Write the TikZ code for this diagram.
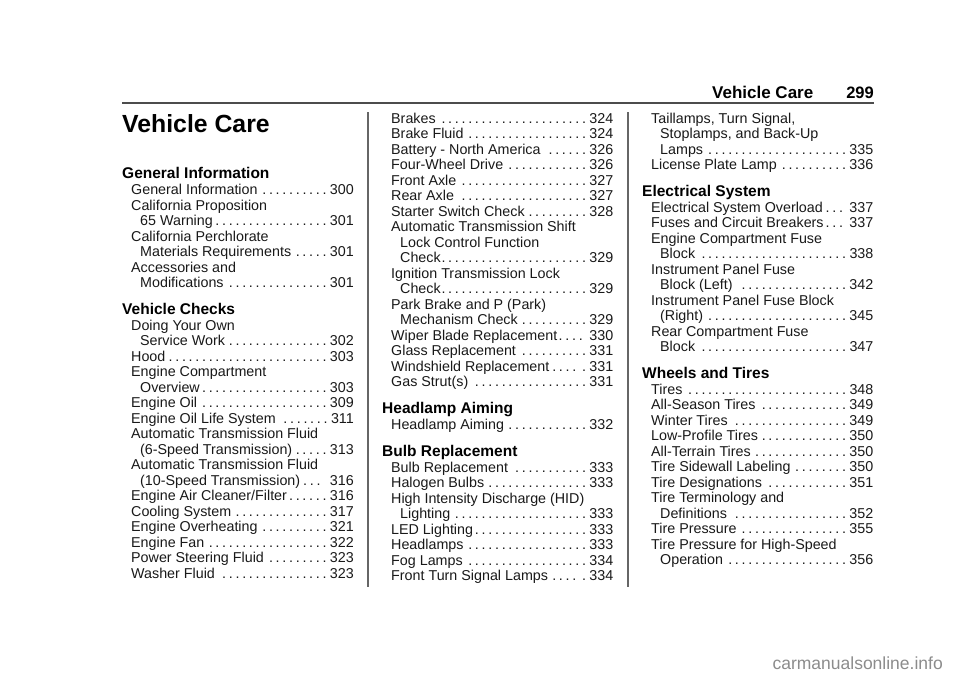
\documentclass[tikz,border=0pt]{standalone}
\usepackage{fontspec}
\setmainfont{Liberation Sans}
\newcount\nodeno
\newcommand{\bodysize}{\fontsize{14.3}{15.5}\selectfont}
\newcommand{\ldr}[1]{{\spaceskip=2.72pt\relax\xspaceskip=2.72pt\relax #1}}
\newcommand{\setcol}[2]{\def\cx{#1}\def\crgt{#2}}
\newcommand{\bodyline}[3]{\global\advance\nodeno by 1
  \node[bodytext] (t\the\nodeno) at (\cx+#2,-#1) {#3};}
\newcommand{\pg}[3]{\global\advance\nodeno by 1
  \node[bodyright] (p\the\nodeno) at (\crgt,-#1) {\ldr{#2}\kern3.4pt #3};}
\newcommand{\hd}[2]{\global\advance\nodeno by 1
  \node[headtext] (h\the\nodeno) at (\cx-9,-#1) {#2};}
\tikzset{
  bodytext/.style={inner sep=0pt,anchor=base west,font=\bodysize,text=black!90},
  bodyright/.style={inner sep=0pt,anchor=base east,font=\bodysize,text=black!90},
  headtext/.style={inner sep=0pt,anchor=base west,font=\fontsize{15.5}{18}\selectfont\bfseries},
  rulegray/.style={draw=black!60,line width=1.4pt}
}
\begin{document}
\begin{tikzpicture}[x=1pt,y=1pt]
\useasboundingbox (0,0) rectangle (960,-678);
\fill[white] (0,0) rectangle (960,-678);
\node[inner sep=0pt,anchor=base east,font=\fontsize{17}{20}\selectfont\bfseries] (ttl) at (813.5,-98.5) {Vehicle Care};
\node[inner sep=0pt,anchor=base east,font=\fontsize{16.5}{20}\selectfont\bfseries] (pno) at (874,-98.5) {299};
\draw[draw=black!70,line width=1.3pt] (122,-103) coordinate (ra) -- (874,-103) coordinate (rb);
\node[inner sep=0pt,anchor=base west,font=\fontsize{24.8}{28}\selectfont\bfseries] (big) at (122,-132) {Vehicle Care};
\draw[rulegray] (368,-112) coordinate (v1a) -- (368,-587) coordinate (v1b);
\draw[rulegray] (628,-112) coordinate (v2a) -- (628,-587) coordinate (v2b);
% column 1
\setcol{131}{354}
\hd{178.5}{General Information}
\bodyline{194}{0}{General Information}\pg{194}{. . . . . . . . . .}{300}
\bodyline{210}{0}{California Proposition}
\bodyline{225}{9}{65 Warning}\pg{225}{. . . . . . . . . . . . . . . . .}{301}
\bodyline{241}{0}{California Perchlorate}
\bodyline{256}{9}{Materials Requirements}\pg{256}{. . . . .}{301}
\bodyline{272}{0}{Accessories and}
\bodyline{287}{9}{Modifications}\pg{287}{. . . . . . . . . . . . . . .}{301}
\hd{314}{Vehicle Checks}
\bodyline{330}{0}{Doing Your Own}
\bodyline{345}{9}{Service Work}\pg{345}{. . . . . . . . . . . . . . .}{302}
\bodyline{361}{0}{Hood}\pg{361}{. . . . . . . . . . . . . . . . . . . . . . . .}{303}
\bodyline{376}{0}{Engine Compartment}
\bodyline{392}{9}{Overview}\pg{392}{. . . . . . . . . . . . . . . . . . .}{303}
\bodyline{407}{0}{Engine Oil}\pg{407}{. . . . . . . . . . . . . . . . . . .}{309}
\bodyline{423}{0}{Engine Oil Life System}\pg{423}{. . . . . . .}{311}
\bodyline{438}{0}{Automatic Transmission Fluid}
\bodyline{454}{9}{(6-Speed Transmission)}\pg{454}{. . . . .}{313}
\bodyline{469}{0}{Automatic Transmission Fluid}
\bodyline{485}{9}{(10-Speed Transmission)}\pg{485}{. . .\kern6pt}{316}
\bodyline{500}{0}{Engine Air Cleaner/Filter}\pg{500}{. . . . . .}{316}
\bodyline{516}{0}{Cooling System}\pg{516}{. . . . . . . . . . . . . .}{317}
\bodyline{531}{0}{Engine Overheating}\pg{531}{. . . . . . . . . .}{321}
\bodyline{547}{0}{Engine Fan}\pg{547}{. . . . . . . . . . . . . . . . . .}{322}
\bodyline{562}{0}{Power Steering Fluid}\pg{562}{. . . . . . . . .}{323}
\bodyline{578}{0}{Washer Fluid}\pg{578}{. . . . . . . . . . . . . . . .}{323}
% column 2
\setcol{391}{613.5}
\bodyline{123}{0}{Brakes}\pg{123}{. . . . . . . . . . . . . . . . . . . . . .}{324}
\bodyline{138}{0}{Brake Fluid}\pg{138}{. . . . . . . . . . . . . . . . . .}{324}
\bodyline{154}{0}{Battery - North America}\pg{154}{. . . . . .}{326}
\bodyline{169}{0}{Four-Wheel Drive}\pg{169}{. . . . . . . . . . . .}{326}
\bodyline{185}{0}{Front Axle}\pg{185}{. . . . . . . . . . . . . . . . . . .}{327}
\bodyline{200}{0}{Rear Axle}\pg{200}{. . . . . . . . . . . . . . . . . . .}{327}
\bodyline{216}{0}{Starter Switch Check}\pg{216}{. . . . . . . . .}{328}
\bodyline{231}{0}{Automatic Transmission Shift}
\bodyline{247}{9}{Lock Control Function}
\bodyline{262}{9}{Check}\pg{262}{. . . . . . . . . . . . . . . . . . . . . .}{329}
\bodyline{278}{0}{Ignition Transmission Lock}
\bodyline{293}{9}{Check}\pg{293}{. . . . . . . . . . . . . . . . . . . . . .}{329}
\bodyline{309}{0}{Park Brake and P (Park)}
\bodyline{324}{9}{Mechanism Check}\pg{324}{. . . . . . . . . .}{329}
\bodyline{340}{0}{Wiper Blade Replacement}\pg{340}{. . . .\kern3.3pt}{330}
\bodyline{355}{0}{Glass Replacement}\pg{355}{. . . . . . . . . .}{331}
\bodyline{371}{0}{Windshield Replacement}\pg{371}{. . . .\kern3pt\ .}{331}
\bodyline{386}{0}{Gas Strut(s)}\pg{386}{. . . . . . . . . . . . . . . . .}{331}
\hd{413.5}{Headlamp Aiming}
\bodyline{429}{0}{Headlamp Aiming}\pg{429}{. . . . . . . . . . . .}{332}
\hd{456}{Bulb Replacement}
\bodyline{472}{0}{Bulb Replacement}\pg{472}{. . . . . . . . . . .}{333}
\bodyline{487}{0}{Halogen Bulbs}\pg{487}{. . . . . . . . . . . . . . .}{333}
\bodyline{503}{0}{High Intensity Discharge (HID)}
\bodyline{518}{9}{Lighting}\pg{518}{. . . . . . . . . . . . . . . . . . . .}{333}
\bodyline{534}{0}{LED Lighting}\pg{534}{. . . . . . . . . . . . . . . . .}{333}
\bodyline{549}{0}{Headlamps}\pg{549}{. . . . . . . . . . . . . . . . . .}{333}
\bodyline{565}{0}{Fog Lamps}\pg{565}{. . . . . . . . . . . . . . . . . .}{334}
\bodyline{580}{0}{Front Turn Signal Lamps}\pg{580}{. . . .\kern3pt\ .}{334}
% column 3
\setcol{651}{873.5}
\bodyline{123}{0}{Taillamps, Turn Signal,}
\bodyline{138}{9}{Stoplamps, and Back-Up}
\bodyline{154}{9}{Lamps}\pg{154}{. . . . . . . . . . . . . . . . . . . . .}{335}
\bodyline{169}{0}{License Plate Lamp}\pg{169}{. . . . . . . . . .}{336}
\hd{196}{Electrical System}
\bodyline{212}{0}{Electrical System Overload}\pg{212}{. . .\kern3pt}{337}
\bodyline{227}{0}{Fuses and Circuit Breakers}\pg{227}{. . .\kern3pt}{337}
\bodyline{243}{0}{Engine Compartment Fuse}
\bodyline{258}{9}{Block}\pg{258}{. . . . . . . . . . . . . . . . . . . . . .}{338}
\bodyline{274}{0}{Instrument Panel Fuse}
\bodyline{289}{9}{Block (Left)}\pg{289}{. . . . . . . . . . . . . . . .}{342}
\bodyline{305}{0}{Instrument Panel Fuse Block}
\bodyline{320}{9}{(Right)}\pg{320}{. . . . . . . . . . . . . . . . . . . . .}{345}
\bodyline{336}{0}{Rear Compartment Fuse}
\bodyline{351}{9}{Block}\pg{351}{. . . . . . . . . . . . . . . . . . . . . .}{347}
\hd{378.5}{Wheels and Tires}
\bodyline{394}{0}{Tires}\pg{394}{. . . . . . . . . . . . . . . . . . . . . . . .}{348}
\bodyline{409}{0}{All-Season Tires}\pg{409}{. . . . . . . . . . . . .}{349}
\bodyline{425}{0}{Winter Tires}\pg{425}{. . . . . . . . . . . . . . . . .}{349}
\bodyline{440}{0}{Low-Profile Tires}\pg{440}{. . . . . . . . . . . . .}{350}
\bodyline{456}{0}{All-Terrain Tires}\pg{456}{. . . . . . . . . . . . . .}{350}
\bodyline{471}{0}{Tire Sidewall Labeling}\pg{471}{. . . . . . . .}{350}
\bodyline{487}{0}{Tire Designations}\pg{487}{. . . . . . . . . . . .}{351}
\bodyline{502}{0}{Tire Terminology and}
\bodyline{518}{9}{Definitions}\pg{518}{. . . . . . . . . . . . . . . . .}{352}
\bodyline{533}{0}{Tire Pressure}\pg{533}{. . . . . . . . . . . . . . . .}{355}
\bodyline{549}{0}{Tire Pressure for High-Speed}
\bodyline{564}{9}{Operation}\pg{564}{. . . . . . . . . . . . . . . . . .}{356}
\node[inner sep=0pt,anchor=base east,font=\fontsize{17.5}{20}\selectfont,text=black!45] (wm) at (943,-669) {carmanualsonline.info};
\end{tikzpicture}
\end{document}
